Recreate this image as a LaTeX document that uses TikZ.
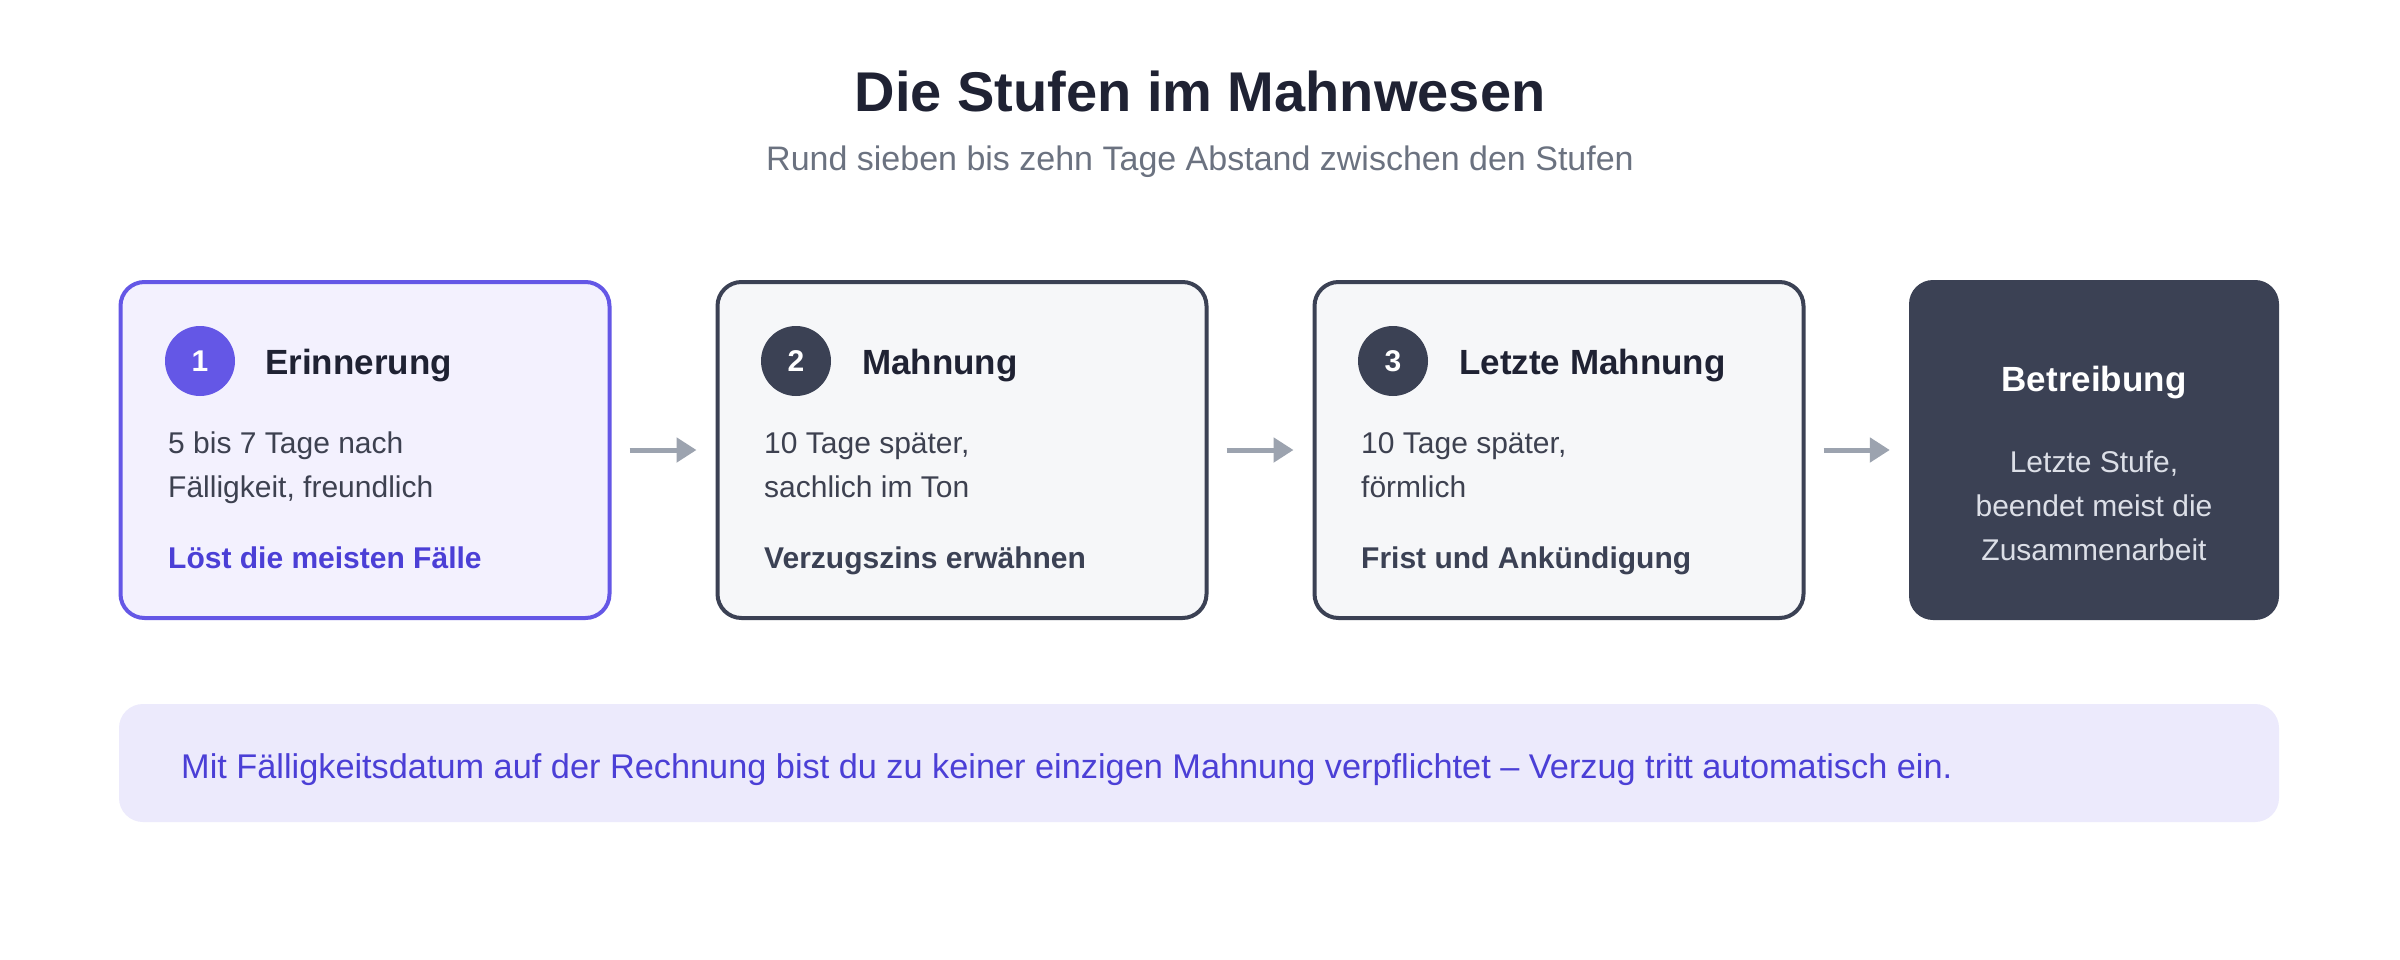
\documentclass[tikz,border=0pt]{standalone}
\usepackage{fontspec}
\setmainfont{Liberation Sans}
\usetikzlibrary{arrows.meta}
\definecolor{tinte}{HTML}{1F2233}
\definecolor{untertitel}{HTML}{6B7280}
\definecolor{violett}{HTML}{6457E6}
\definecolor{indigo}{HTML}{4B3FD6}
\definecolor{lila}{HTML}{F3F1FE}
\definecolor{lilahell}{HTML}{ECEAFC}
\definecolor{schiefer}{HTML}{3B4154}
\definecolor{hellgrau}{HTML}{F6F7F9}
\definecolor{grautext}{HTML}{3D4150}
\definecolor{hellschrift}{HTML}{DCDFE7}
\definecolor{pfeilgrau}{HTML}{9CA3AF}
\tikzstyle{stufe}=[rectangle, draw=schiefer, fill=hellgrau, line width=4pt, rounded corners=24pt, minimum width=489pt, minimum height=336pt]
\tikzstyle{erste}=[stufe, draw=violett, fill=lila]
\tikzstyle{ende}=[rectangle, fill=schiefer, rounded corners=24pt, minimum width=370pt, minimum height=340pt]
\tikzstyle{nummer}=[circle, fill=schiefer, minimum size=70pt, inner sep=0pt, text=white, font=\fontsize{30}{36}\selectfont\bfseries]
\tikzstyle{kopf}=[anchor=base west, inner sep=0pt, text=tinte, font=\fontsize{35}{42}\selectfont\bfseries]
\tikzstyle{zeilen}=[anchor=base west, inner sep=0pt, align=left, text=grautext, font=\fontsize{30}{44}\selectfont]
\tikzstyle{merke}=[anchor=base west, inner sep=0pt, text=schiefer, font=\fontsize{30}{36}\selectfont\bfseries]
\tikzstyle{pfeil}=[draw=pfeilgrau, line width=5pt, -{Triangle[length=20pt,width=24pt]}, shorten <=18pt, shorten >=19pt]

\begin{document}
\begin{tikzpicture}[x=1pt, y=-1pt]
    \useasboundingbox[fill=white] (0,0) rectangle (2400,960);
    % Titel
    \node[anchor=base, text=tinte, font=\fontsize{56}{64}\selectfont\bfseries] (titel) at (1200, 112) {Die Stufen im Mahnwesen};
    \node[anchor=base, text=untertitel, font=\fontsize{34}{40}\selectfont] (untertitel) at (1200, 171) {Rund sieben bis zehn Tage Abstand zwischen den Stufen};
    % Stufen
    \node[erste] (erin) at (365, 450) {};
    \node[stufe] (mahn) at (962, 450) {};
    \node[stufe] (letzt) at (1559, 450) {};
    \node[ende] (betr) at (2094, 450) {};
    \node[nummer, fill=violett] (n1) at (200, 361) {1};
    \node[kopf] (k1) at (265, 374) {Erinnerung};
    \node[zeilen] (z1) at (168, 497) {5 bis 7 Tage nach\\Fälligkeit, freundlich};
    \node[merke, text=indigo] (m1) at (168, 568) {Löst die meisten Fälle};
    \node[nummer] (n2) at (796, 361) {2};
    \node[kopf] (k2) at (862, 374) {Mahnung};
    \node[zeilen] (z2) at (764, 497) {10 Tage später,\\sachlich im Ton};
    \node[merke] (m2) at (764, 568) {Verzugszins erwähnen};
    \node[nummer] (n3) at (1393, 361) {3};
    \node[kopf] (k3) at (1459, 374) {Letzte Mahnung};
    \node[zeilen] (z3) at (1361, 497) {10 Tage später,\\förmlich};
    \node[merke] (m3) at (1361, 568) {Frist und Ankündigung};
    \node[kopf, anchor=base, text=white] (k4) at (2094, 391) {Betreibung};
    \node[zeilen, anchor=base, align=center, text=hellschrift] (z4) at (2094, 560) {Letzte Stufe,\\beendet meist die\\Zusammenarbeit};
    \draw[pfeil] (erin) -- (mahn);
    \draw[pfeil] (mahn) -- (letzt);
    \draw[pfeil] (letzt) -- (betr);
    % Hinweis
    \node[rectangle, fill=lilahell, rounded corners=24pt, minimum width=2160pt, minimum height=118pt] (hinweis) at (1199, 763) {};
    \node[anchor=base west, inner sep=0pt, text=indigo, font=\fontsize{34.3}{40}\selectfont] (satz) at (181, 778) {Mit Fälligkeitsdatum auf der Rechnung bist du zu keiner einzigen Mahnung verpflichtet – Verzug tritt automatisch ein.};
\end{tikzpicture}
\end{document}
